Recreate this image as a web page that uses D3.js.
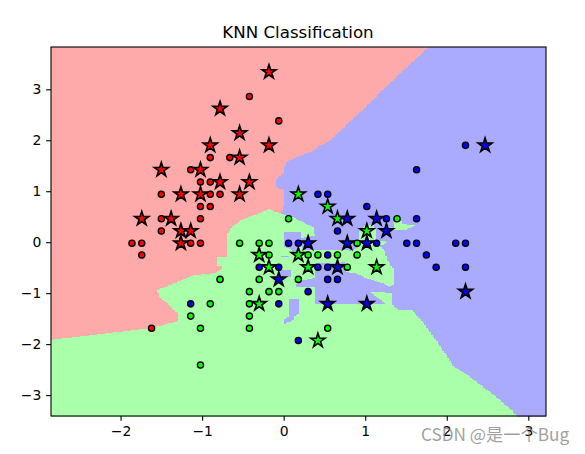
<!DOCTYPE html>
<html><head><meta charset="utf-8">
<script src="https://cdn.jsdelivr.net/npm/d3@7"></script>
<style>html,body{margin:0;padding:0;background:#fff}svg{display:block}</style>
</head><body><svg id="c" width="585" height="454"></svg>
<script>
const redTrain=[[-0.42,2.86],[-0.06,2.38],[-0.90,1.66],[-0.66,1.66],[-1.14,1.42],[-1.02,1.18],[-0.90,1.18],[-1.50,0.94],[-0.90,0.94],[-0.78,0.94],[-1.02,0.70],[-0.90,0.70],[-1.50,0.46],[-1.02,0.46],[-1.50,0.22],[-1.86,-0.02],[-1.74,-0.02],[-1.14,-0.02],[-1.02,-0.02],[-1.74,-0.25],[-1.62,-1.69]];
const greenTrain=[[0.06,0.46],[1.39,0.46],[-0.30,-0.02],[-0.18,-0.02],[0.90,-0.02],[-0.18,-0.25],[0.30,-0.25],[0.42,-0.25],[0.66,-0.25],[0.90,-0.25],[0.78,-0.49],[-0.30,-0.73],[0.18,-0.73],[-0.42,-0.97],[-0.18,-0.97],[-0.06,-0.97],[-0.42,-1.21],[-0.42,-1.45],[-0.42,-1.69],[0.54,-1.69],[-0.54,-0.02],[-0.78,-0.73],[-0.90,-1.21],[-1.14,-1.45],[-1.02,-1.69],[-1.02,-2.41]];
const blueTrain=[[0.42,0.94],[0.54,0.94],[1.02,0.70],[1.26,0.46],[1.63,0.46],[1.63,1.42],[0.66,0.22],[0.06,-0.02],[0.18,-0.02],[1.14,-0.02],[1.51,-0.02],[1.63,-0.02],[0.54,-0.25],[1.75,-0.25],[-0.30,-0.49],[-0.06,-0.49],[0.42,-0.49],[0.54,-0.49],[1.87,-0.49],[0.54,-0.73],[0.66,-0.73],[0.30,-0.97],[-0.06,-1.21],[0.18,-1.93],[-1.14,-1.21],[2.23,1.90],[2.11,-0.02],[2.23,-0.02],[2.23,-0.49]];
const redTest=[[-0.18,3.34],[-0.78,2.62],[-0.54,2.14],[-0.90,1.90],[-0.18,1.90],[-0.54,1.66],[-1.50,1.42],[-1.02,1.42],[-0.78,1.18],[-0.42,1.18],[-1.26,0.94],[-1.02,0.94],[-0.54,0.94],[-1.74,0.46],[-1.38,0.46],[-1.26,0.22],[-1.14,0.22],[-1.26,-0.02]];
const greenTest=[[0.18,0.94],[0.54,0.70],[0.66,0.46],[1.02,0.22],[0.18,-0.25],[-0.30,-0.25],[-0.18,-0.49],[0.30,-0.49],[1.14,-0.49],[-0.30,-1.21],[0.42,-1.93]];
const blueTest=[[0.78,0.46],[1.14,0.46],[1.26,0.22],[0.30,-0.02],[0.78,-0.02],[1.02,-0.02],[0.66,-0.49],[-0.06,-0.73],[0.54,-1.21],[1.02,-1.21],[2.47,1.90],[2.23,-0.97]];
// decision-region outlines, in data units
const redRegion=[[-2.86,3.84],[1.768,3.84],[1.18,2.945],[0.567,2.004],[0.359,1.808],[0.2,1.71],[0.016,1.573],[-0.009,1.376],[-0.094,1.239],[-0.094,1.082],[0.004,1.004],[-0.009,0.729],[-0.045,0.573],[-0.192,0.651],[-0.376,0.533],[-0.536,0.435],[-0.646,0.298],[-0.707,0.141],[-0.707,-0.271],[-0.646,-0.29],[-0.83,-0.29],[-0.83,-0.467],[-0.768,-0.467],[-0.768,-0.506],[-0.866,-0.604],[-1.111,-0.643],[-1.308,-0.78],[-1.43,-0.859],[-1.565,-0.937],[-1.54,-1.075],[-1.43,-1.212],[-1.308,-1.388],[-1.308,-1.545],[-1.638,-1.682],[-2.86,-1.918]];
const greenRegion=[[-0.045,0.573],[0.077,0.514],[0.2,0.416],[0.347,0.298],[0.371,0.122],[0.2,0.082],[0.224,-0.153],[0.751,-0.153],[0.8,-0.173],[0.849,-0.153],[0.911,-0.094],[0.911,0.18],[0.972,0.318],[1.082,0.357],[1.119,0.239],[1.119,0.043],[1.266,0.004],[1.18,-0.075],[1.229,-0.192],[1.266,-0.349],[1.303,-0.447],[1.327,-0.506],[1.327,-0.839],[1.278,-0.878],[1.205,-0.8],[0.996,-0.702],[0.874,-0.604],[0.751,-0.584],[0.727,-0.388],[0.371,-0.408],[0.371,-1.212],[1.241,-1.212],[1.045,-0.976],[1.315,-0.996],[1.327,-1.231],[1.425,-1.329],[1.572,-1.329],[1.707,-1.584],[1.94,-2.114],[2.063,-2.408],[2.246,-2.604],[2.565,-2.996],[2.871,-3.42],[-2.86,-3.42],[-2.86,-1.133],[-1.026,0.827],[-0.192,0.827]];
const greenLobe=[[1.327,0.53],[1.388,0.55],[1.45,0.357],[1.609,0.337],[1.487,0.239],[1.34,0.239]];
const blueIslands=[
 [[0.004,0.2],[0.188,0.2],[0.188,-0.055],[0.175,-0.212],[0.077,-0.153],[0.004,-0.094]],
 [[-0.045,-0.251],[0.053,-0.251],[0.053,-0.29],[-0.045,-0.29]],
 [[-0.07,-0.545],[0.077,-0.545],[0.077,-0.682],[-0.07,-0.682]],
 [[0.065,-1.114],[0.175,-1.114],[0.175,-1.388],[0.114,-1.447],[0.114,-1.525],[-0.009,-1.604],[-0.009,-1.525],[0.053,-1.447],[0.065,-1.388]],
 [[0.237,-0.741],[0.371,-0.702],[0.371,-0.878],[0.138,-0.878],[0.138,-0.82]]
];
const xTicks=[-2,-1,0,1,2,3], yTicks=[-3,-2,-1,0,1,2,3];
const xDomain=[-2.853,3.217], yDomain=[-3.41,3.83];
const title="KNN Classification", mark="CSDN @是一个Bug";
const lightColors=["#FFAAAA","#AAFFAA","#AAAAFF"], boldColors=["#FF0000","#00FF00","#0000FF"];
const gridStep=0.02;

const svg=d3.select("#c");
const M={l:51,r:546,t:47,b:416};
const x=d3.scaleLinear(xDomain,[M.l,M.r]), y=d3.scaleLinear(yDomain,[M.b,M.t]);
const inP=(poly,p)=>d3.polygonContains(poly,p);
function classify(p){
  if(inP(redRegion,p)) return 0;
  if(blueIslands.some(b=>inP(b,p))) return 2;
  if(inP(greenRegion,p)||inP(greenLobe,p)) return 1;
  return 2;
}
const region=svg.append("g").attr("shape-rendering","crispEdges");
const xs=d3.range(xDomain[0],xDomain[1]+gridStep,gridStep), ys=d3.range(yDomain[0],yDomain[1],gridStep);
ys.forEach(yy=>{
  let start=xs[0],cur=classify([xs[0],yy]);
  xs.forEach((xx,i)=>{
    const last=i===xs.length-1, k=last?-1:classify([xx,yy]);
    if(k!==cur){
      region.append("rect").attr("x",x(start)).attr("y",Math.max(M.t,y(yy+gridStep)))
        .attr("width",Math.min(x(xx),M.r)-x(start)).attr("height",y(yy)-y(yy+gridStep)+.6)
        .attr("fill",lightColors[cur]);
      start=xx;cur=k;
    }
  });
});
const circle=d3.symbol(d3.symbolCircle,30), star=d3.symbol(d3.symbolStar,62);
function pts(a,c,sym,w){
  svg.append("g").selectAll("path").data(a).join("path")
    .attr("transform",d=>`translate(${x(d[0])},${y(d[1])})`).attr("d",sym)
    .attr("fill",boldColors[c]).attr("stroke","#000").attr("stroke-width",w);
}
[redTrain,greenTrain,blueTrain].forEach((a,c)=>pts(a,c,circle,1.39));
[redTest,greenTest,blueTest].forEach((a,c)=>pts(a,c,star,1.6));
const font="'DejaVu Sans'";
const ax=svg.append("g").attr("transform",`translate(0,${M.b})`).call(d3.axisBottom(x).tickValues(xTicks).tickFormat(d3.format("d")).tickSize(4.86).tickPadding(4.86));
const ay=svg.append("g").attr("transform",`translate(${M.l},0)`).call(d3.axisLeft(y).tickValues(yTicks).tickFormat(d3.format("d")).tickSize(4.86).tickPadding(4.86));
[ax,ay].forEach(g=>{g.select(".domain").remove();g.selectAll("line").attr("stroke","#000").attr("stroke-width",1.1);g.selectAll("text").attr("font-family",font).attr("font-size",13.9).attr("fill","#000")});
svg.append("rect").attr("x",M.l).attr("y",M.t).attr("width",M.r-M.l).attr("height",M.b-M.t).attr("fill","none").attr("stroke","#000").attr("stroke-width",1.1);
svg.append("text").attr("x",298).attr("y",38).attr("text-anchor","middle").attr("font-family",font).attr("font-size",16.67).attr("fill","#000").text(title);
svg.append("text").attr("x",421).attr("y",441).attr("font-family","'Noto Sans CJK SC','Noto Sans'").attr("font-size",17.2).attr("fill","#808080").attr("fill-opacity",.75).text(mark);
</script></body></html>
